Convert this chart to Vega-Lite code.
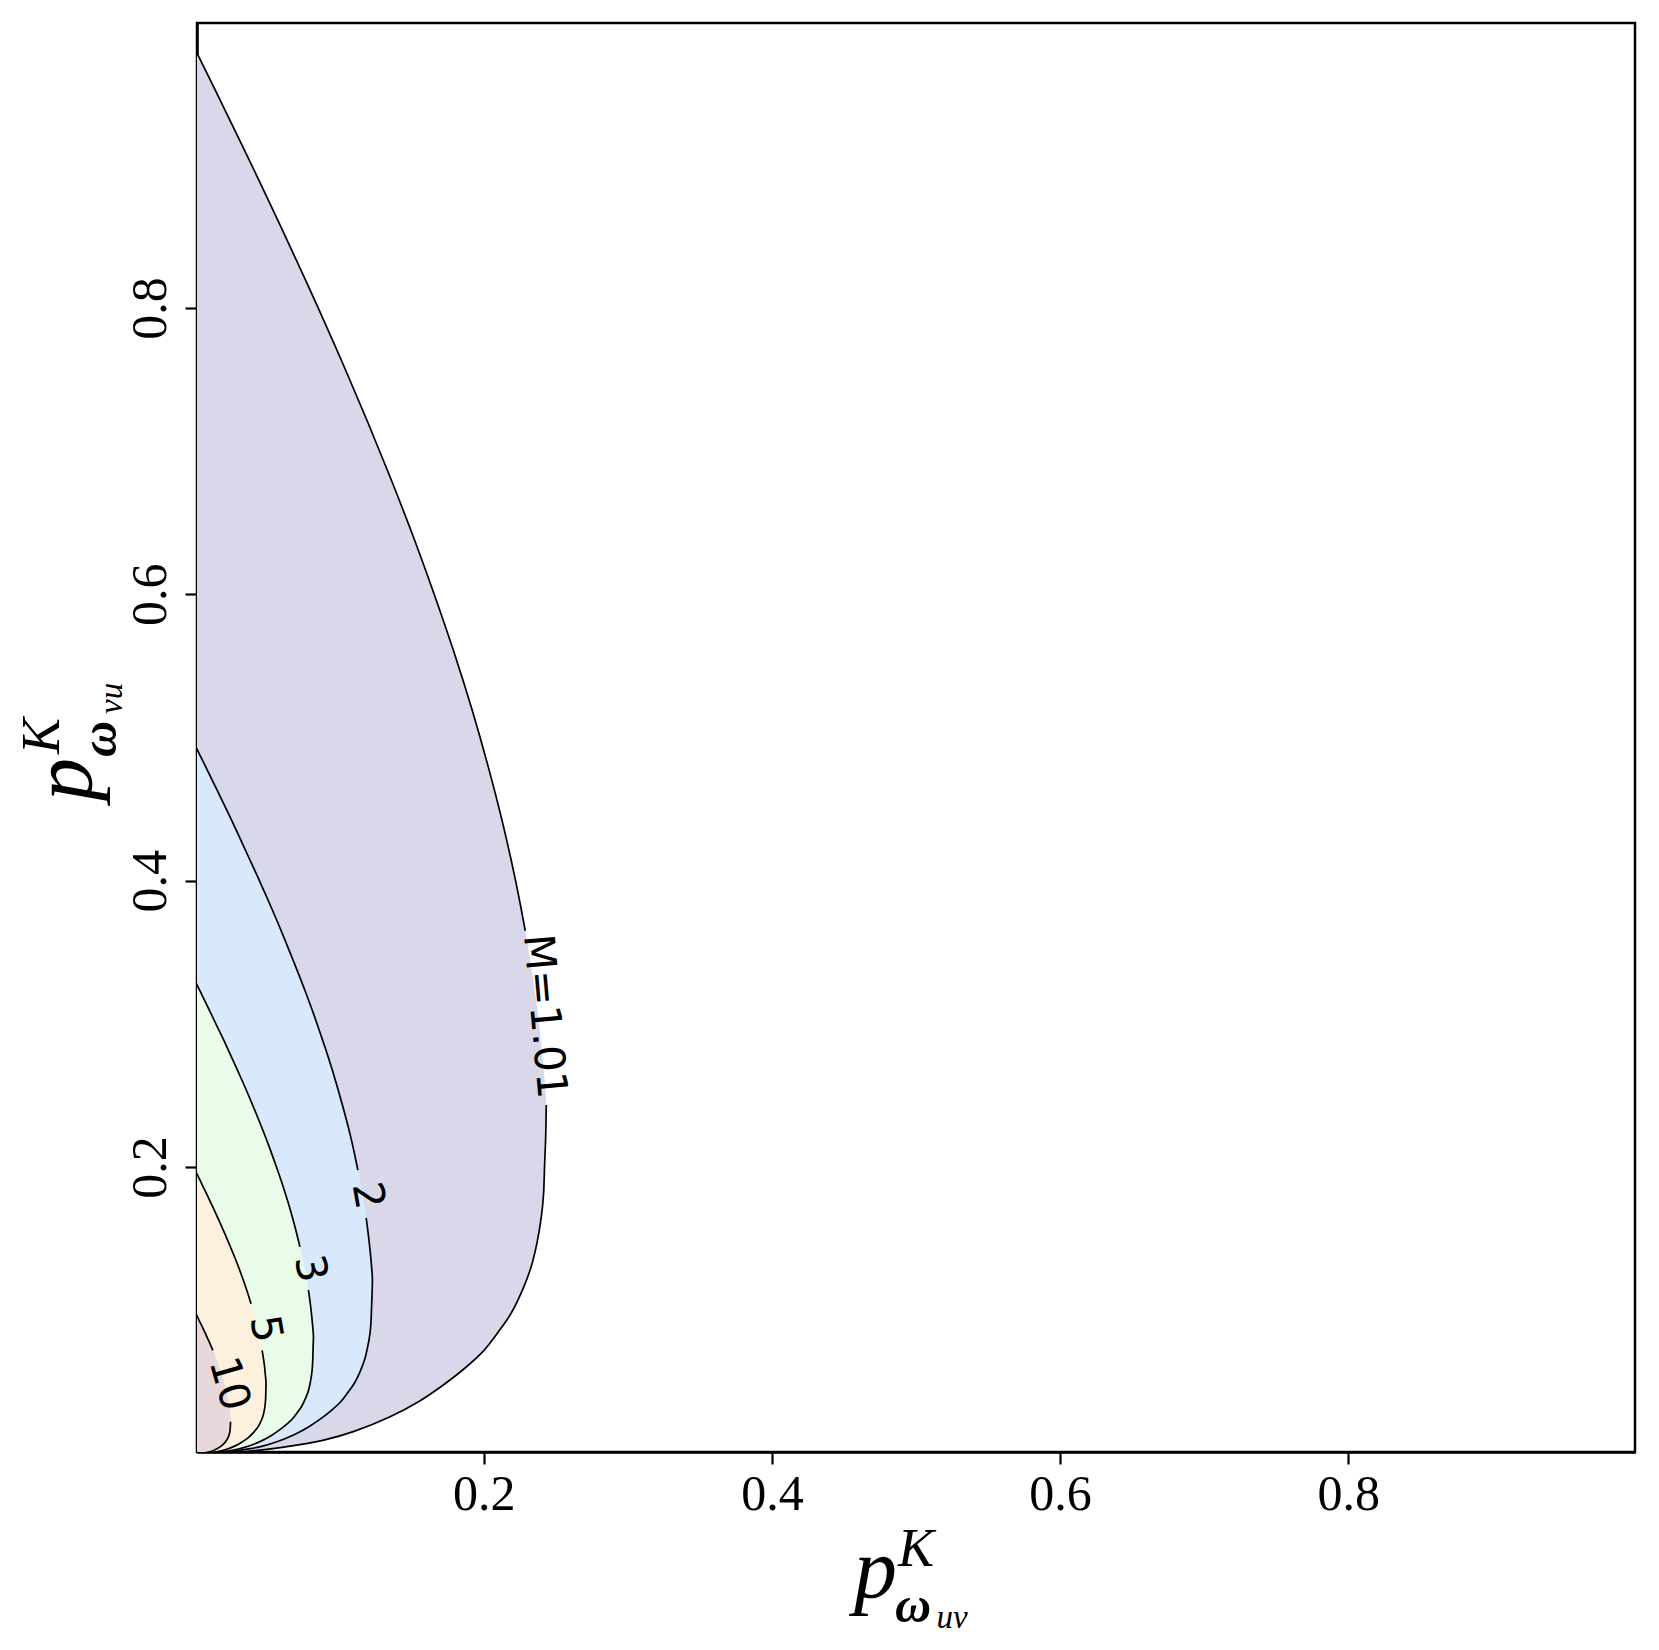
{
  "$schema": "https://vega.github.io/schema/vega-lite/v6.json",
  "width": 1438,
  "height": 1429,
  "autosize": {"type": "none"},
  "padding": {"left": 197, "top": 23, "right": 24, "bottom": 198},
  "background": "white",
  "config": {"view": {"stroke": "black", "strokeWidth": 2.5}},
  "datasets": {
    "contours": [
      {"level": "1.01", "seg": "a", "x": 0, "y": 0.98},
      {"level": "1.01", "seg": "a", "x": 0.0147, "y": 0.95},
      {"level": "1.01", "seg": "a", "x": 0.0292, "y": 0.92},
      {"level": "1.01", "seg": "a", "x": 0.0436, "y": 0.89},
      {"level": "1.01", "seg": "a", "x": 0.0577, "y": 0.86},
      {"level": "1.01", "seg": "a", "x": 0.0715, "y": 0.83},
      {"level": "1.01", "seg": "a", "x": 0.0851, "y": 0.80},
      {"level": "1.01", "seg": "a", "x": 0.1027, "y": 0.76},
      {"level": "1.01", "seg": "a", "x": 0.1196, "y": 0.72},
      {"level": "1.01", "seg": "a", "x": 0.1358, "y": 0.68},
      {"level": "1.01", "seg": "a", "x": 0.1512, "y": 0.64},
      {"level": "1.01", "seg": "a", "x": 0.1656, "y": 0.60},
      {"level": "1.01", "seg": "a", "x": 0.1792, "y": 0.56},
      {"level": "1.01", "seg": "a", "x": 0.1917, "y": 0.52},
      {"level": "1.01", "seg": "a", "x": 0.2030, "y": 0.48},
      {"level": "1.01", "seg": "a", "x": 0.2132, "y": 0.44},
      {"level": "1.01", "seg": "a", "x": 0.2221, "y": 0.40},
      {"level": "1.01", "seg": "a", "x": 0.2279, "y": 0.37},
      {"level": "1.01", "seg": "a", "x": 0.2288, "y": 0.365},
      {"level": "1.01", "seg": "gap", "x": 0.2330, "y": 0.34},
      {"level": "1.01", "seg": "gap", "x": 0.2372, "y": 0.31},
      {"level": "1.01", "seg": "gap", "x": 0.2405, "y": 0.28},
      {"level": "1.01", "seg": "gap", "x": 0.2423, "y": 0.26},
      {"level": "1.01", "seg": "b", "x": 0.2434, "y": 0.2434},
      {"level": "1.01", "seg": "b", "x": 0.2430, "y": 0.2214},
      {"level": "1.01", "seg": "b", "x": 0.2422, "y": 0.2002},
      {"level": "1.01", "seg": "b", "x": 0.2415, "y": 0.1808},
      {"level": "1.01", "seg": "b", "x": 0.2400, "y": 0.1655},
      {"level": "1.01", "seg": "b", "x": 0.2370, "y": 0.1472},
      {"level": "1.01", "seg": "b", "x": 0.2329, "y": 0.1303},
      {"level": "1.01", "seg": "b", "x": 0.2270, "y": 0.1144},
      {"level": "1.01", "seg": "b", "x": 0.2189, "y": 0.0977},
      {"level": "1.01", "seg": "b", "x": 0.2100, "y": 0.0847},
      {"level": "1.01", "seg": "b", "x": 0.2002, "y": 0.072},
      {"level": "1.01", "seg": "b", "x": 0.1860, "y": 0.0588},
      {"level": "1.01", "seg": "b", "x": 0.1700, "y": 0.0464},
      {"level": "1.01", "seg": "b", "x": 0.1550, "y": 0.0363},
      {"level": "1.01", "seg": "b", "x": 0.1350, "y": 0.0256},
      {"level": "1.01", "seg": "b", "x": 0.1100, "y": 0.0154},
      {"level": "1.01", "seg": "b", "x": 0.0883, "y": 0.0091},
      {"level": "1.01", "seg": "b", "x": 0.0600, "y": 0.0042},
      {"level": "1.01", "seg": "b", "x": 0.0417, "y": 0.002},
      {"level": "1.01", "seg": "b", "x": 0.0200, "y": 0.0005},
      {"level": "1.01", "seg": "b", "x": 0, "y": 0},

      {"level": "2", "seg": "a", "x": 0, "y": 0.4939},
      {"level": "2", "seg": "a", "x": 0.0074, "y": 0.4788},
      {"level": "2", "seg": "a", "x": 0.0147, "y": 0.4637},
      {"level": "2", "seg": "a", "x": 0.0220, "y": 0.4486},
      {"level": "2", "seg": "a", "x": 0.0291, "y": 0.4334},
      {"level": "2", "seg": "a", "x": 0.0360, "y": 0.4183},
      {"level": "2", "seg": "a", "x": 0.0429, "y": 0.4032},
      {"level": "2", "seg": "a", "x": 0.0518, "y": 0.383},
      {"level": "2", "seg": "a", "x": 0.0603, "y": 0.3629},
      {"level": "2", "seg": "a", "x": 0.0684, "y": 0.3427},
      {"level": "2", "seg": "a", "x": 0.0762, "y": 0.3226},
      {"level": "2", "seg": "a", "x": 0.0835, "y": 0.3024},
      {"level": "2", "seg": "a", "x": 0.0903, "y": 0.2822},
      {"level": "2", "seg": "a", "x": 0.0966, "y": 0.2621},
      {"level": "2", "seg": "a", "x": 0.1023, "y": 0.2419},
      {"level": "2", "seg": "a", "x": 0.1075, "y": 0.2218},
      {"level": "2", "seg": "a", "x": 0.1119, "y": 0.2016},
      {"level": "2", "seg": "a", "x": 0.1126, "y": 0.1979},
      {"level": "2", "seg": "gap", "x": 0.1149, "y": 0.1865},
      {"level": "2", "seg": "gap", "x": 0.1174, "y": 0.1714},
      {"level": "2", "seg": "b", "x": 0.1184, "y": 0.1645},
      {"level": "2", "seg": "b", "x": 0.1195, "y": 0.1562},
      {"level": "2", "seg": "b", "x": 0.1212, "y": 0.1411},
      {"level": "2", "seg": "b", "x": 0.1221, "y": 0.131},
      {"level": "2", "seg": "b", "x": 0.1227, "y": 0.1227},
      {"level": "2", "seg": "b", "x": 0.1225, "y": 0.1116},
      {"level": "2", "seg": "b", "x": 0.1221, "y": 0.1009},
      {"level": "2", "seg": "b", "x": 0.1217, "y": 0.0911},
      {"level": "2", "seg": "b", "x": 0.1210, "y": 0.0834},
      {"level": "2", "seg": "b", "x": 0.1194, "y": 0.0742},
      {"level": "2", "seg": "b", "x": 0.1174, "y": 0.0657},
      {"level": "2", "seg": "b", "x": 0.1144, "y": 0.0577},
      {"level": "2", "seg": "b", "x": 0.1103, "y": 0.0492},
      {"level": "2", "seg": "b", "x": 0.1058, "y": 0.0427},
      {"level": "2", "seg": "b", "x": 0.1009, "y": 0.0363},
      {"level": "2", "seg": "b", "x": 0.0937, "y": 0.0296},
      {"level": "2", "seg": "b", "x": 0.0857, "y": 0.0234},
      {"level": "2", "seg": "b", "x": 0.0781, "y": 0.0183},
      {"level": "2", "seg": "b", "x": 0.0680, "y": 0.0129},
      {"level": "2", "seg": "b", "x": 0.0554, "y": 0.0078},
      {"level": "2", "seg": "b", "x": 0.0445, "y": 0.0046},
      {"level": "2", "seg": "b", "x": 0.0302, "y": 0.0021},
      {"level": "2", "seg": "b", "x": 0.0210, "y": 0.001},
      {"level": "2", "seg": "b", "x": 0.0101, "y": 0.0003},
      {"level": "2", "seg": "b", "x": 0, "y": 0},

      {"level": "3", "seg": "a", "x": 0, "y": 0.3293},
      {"level": "3", "seg": "a", "x": 0.0049, "y": 0.3192},
      {"level": "3", "seg": "a", "x": 0.0098, "y": 0.3091},
      {"level": "3", "seg": "a", "x": 0.0146, "y": 0.299},
      {"level": "3", "seg": "a", "x": 0.0194, "y": 0.289},
      {"level": "3", "seg": "a", "x": 0.0240, "y": 0.2789},
      {"level": "3", "seg": "a", "x": 0.0286, "y": 0.2688},
      {"level": "3", "seg": "a", "x": 0.0345, "y": 0.2554},
      {"level": "3", "seg": "a", "x": 0.0402, "y": 0.2419},
      {"level": "3", "seg": "a", "x": 0.0456, "y": 0.2285},
      {"level": "3", "seg": "a", "x": 0.0508, "y": 0.215},
      {"level": "3", "seg": "a", "x": 0.0556, "y": 0.2016},
      {"level": "3", "seg": "a", "x": 0.0602, "y": 0.1882},
      {"level": "3", "seg": "a", "x": 0.0644, "y": 0.1747},
      {"level": "3", "seg": "a", "x": 0.0682, "y": 0.1613},
      {"level": "3", "seg": "a", "x": 0.0716, "y": 0.1478},
      {"level": "3", "seg": "a", "x": 0.0724, "y": 0.1443},
      {"level": "3", "seg": "gap", "x": 0.0746, "y": 0.1344},
      {"level": "3", "seg": "gap", "x": 0.0766, "y": 0.1243},
      {"level": "3", "seg": "b", "x": 0.0783, "y": 0.1142},
      {"level": "3", "seg": "b", "x": 0.0797, "y": 0.1042},
      {"level": "3", "seg": "b", "x": 0.0808, "y": 0.0941},
      {"level": "3", "seg": "b", "x": 0.0814, "y": 0.0874},
      {"level": "3", "seg": "b", "x": 0.0818, "y": 0.0818},
      {"level": "3", "seg": "b", "x": 0.0816, "y": 0.0744},
      {"level": "3", "seg": "b", "x": 0.0814, "y": 0.0673},
      {"level": "3", "seg": "b", "x": 0.0811, "y": 0.0607},
      {"level": "3", "seg": "b", "x": 0.0806, "y": 0.0556},
      {"level": "3", "seg": "b", "x": 0.0796, "y": 0.0495},
      {"level": "3", "seg": "b", "x": 0.0783, "y": 0.0438},
      {"level": "3", "seg": "b", "x": 0.0763, "y": 0.0384},
      {"level": "3", "seg": "b", "x": 0.0736, "y": 0.0328},
      {"level": "3", "seg": "b", "x": 0.0706, "y": 0.0285},
      {"level": "3", "seg": "b", "x": 0.0673, "y": 0.0242},
      {"level": "3", "seg": "b", "x": 0.0625, "y": 0.0198},
      {"level": "3", "seg": "b", "x": 0.0571, "y": 0.0156},
      {"level": "3", "seg": "b", "x": 0.0521, "y": 0.0122},
      {"level": "3", "seg": "b", "x": 0.0454, "y": 0.0086},
      {"level": "3", "seg": "b", "x": 0.0370, "y": 0.0052},
      {"level": "3", "seg": "b", "x": 0.0297, "y": 0.0031},
      {"level": "3", "seg": "b", "x": 0.0202, "y": 0.0014},
      {"level": "3", "seg": "b", "x": 0.0140, "y": 0.0007},
      {"level": "3", "seg": "b", "x": 0.0067, "y": 0.0002},
      {"level": "3", "seg": "b", "x": 0, "y": 0},

      {"level": "5", "seg": "a", "x": 0, "y": 0.197},
      {"level": "5", "seg": "a", "x": 0.0030, "y": 0.191},
      {"level": "5", "seg": "a", "x": 0.0059, "y": 0.1849},
      {"level": "5", "seg": "a", "x": 0.0088, "y": 0.1789},
      {"level": "5", "seg": "a", "x": 0.0116, "y": 0.1729},
      {"level": "5", "seg": "a", "x": 0.0144, "y": 0.1668},
      {"level": "5", "seg": "a", "x": 0.0171, "y": 0.1608},
      {"level": "5", "seg": "a", "x": 0.0206, "y": 0.1528},
      {"level": "5", "seg": "a", "x": 0.0240, "y": 0.1447},
      {"level": "5", "seg": "a", "x": 0.0273, "y": 0.1367},
      {"level": "5", "seg": "a", "x": 0.0304, "y": 0.1286},
      {"level": "5", "seg": "a", "x": 0.0333, "y": 0.1206},
      {"level": "5", "seg": "a", "x": 0.0360, "y": 0.1126},
      {"level": "5", "seg": "a", "x": 0.0385, "y": 0.1045},
      {"level": "5", "seg": "gap", "x": 0.0408, "y": 0.0965},
      {"level": "5", "seg": "gap", "x": 0.0429, "y": 0.0884},
      {"level": "5", "seg": "gap", "x": 0.0446, "y": 0.0804},
      {"level": "5", "seg": "gap", "x": 0.0458, "y": 0.0744},
      {"level": "5", "seg": "b", "x": 0.0462, "y": 0.072},
      {"level": "5", "seg": "b", "x": 0.0468, "y": 0.0683},
      {"level": "5", "seg": "b", "x": 0.0477, "y": 0.0623},
      {"level": "5", "seg": "b", "x": 0.0483, "y": 0.0563},
      {"level": "5", "seg": "b", "x": 0.0487, "y": 0.0523},
      {"level": "5", "seg": "b", "x": 0.0489, "y": 0.0489},
      {"level": "5", "seg": "b", "x": 0.0488, "y": 0.0445},
      {"level": "5", "seg": "b", "x": 0.0487, "y": 0.0402},
      {"level": "5", "seg": "b", "x": 0.0485, "y": 0.0363},
      {"level": "5", "seg": "b", "x": 0.0482, "y": 0.0333},
      {"level": "5", "seg": "b", "x": 0.0476, "y": 0.0296},
      {"level": "5", "seg": "b", "x": 0.0468, "y": 0.0262},
      {"level": "5", "seg": "b", "x": 0.0456, "y": 0.023},
      {"level": "5", "seg": "b", "x": 0.0440, "y": 0.0196},
      {"level": "5", "seg": "b", "x": 0.0422, "y": 0.017},
      {"level": "5", "seg": "b", "x": 0.0402, "y": 0.0145},
      {"level": "5", "seg": "b", "x": 0.0374, "y": 0.0118},
      {"level": "5", "seg": "b", "x": 0.0342, "y": 0.0093},
      {"level": "5", "seg": "b", "x": 0.0312, "y": 0.0073},
      {"level": "5", "seg": "b", "x": 0.0271, "y": 0.0051},
      {"level": "5", "seg": "b", "x": 0.0221, "y": 0.0031},
      {"level": "5", "seg": "b", "x": 0.0177, "y": 0.0018},
      {"level": "5", "seg": "b", "x": 0.0121, "y": 0.0008},
      {"level": "5", "seg": "b", "x": 0.0084, "y": 0.0004},
      {"level": "5", "seg": "b", "x": 0, "y": 0},

      {"level": "10", "seg": "a", "x": 0, "y": 0.098},
      {"level": "10", "seg": "a", "x": 0.0015, "y": 0.095},
      {"level": "10", "seg": "a", "x": 0.0029, "y": 0.092},
      {"level": "10", "seg": "a", "x": 0.0044, "y": 0.089},
      {"level": "10", "seg": "a", "x": 0.0058, "y": 0.086},
      {"level": "10", "seg": "a", "x": 0.0072, "y": 0.083},
      {"level": "10", "seg": "a", "x": 0.0085, "y": 0.08},
      {"level": "10", "seg": "a", "x": 0.0103, "y": 0.076},
      {"level": "10", "seg": "a", "x": 0.0120, "y": 0.072},
      {"level": "10", "seg": "gap", "x": 0.0136, "y": 0.068},
      {"level": "10", "seg": "gap", "x": 0.0151, "y": 0.064},
      {"level": "10", "seg": "gap", "x": 0.0166, "y": 0.06},
      {"level": "10", "seg": "gap", "x": 0.0179, "y": 0.056},
      {"level": "10", "seg": "gap", "x": 0.0192, "y": 0.052},
      {"level": "10", "seg": "gap", "x": 0.0203, "y": 0.048},
      {"level": "10", "seg": "gap", "x": 0.0213, "y": 0.044},
      {"level": "10", "seg": "gap", "x": 0.0222, "y": 0.04},
      {"level": "10", "seg": "gap", "x": 0.0228, "y": 0.037},
      {"level": "10", "seg": "gap", "x": 0.0233, "y": 0.034},
      {"level": "10", "seg": "gap", "x": 0.0237, "y": 0.031},
      {"level": "10", "seg": "gap", "x": 0.0241, "y": 0.028},
      {"level": "10", "seg": "gap", "x": 0.0242, "y": 0.026},
      {"level": "10", "seg": "gap", "x": 0.0243, "y": 0.0243},
      {"level": "10", "seg": "b", "x": 0.0243, "y": 0.0221},
      {"level": "10", "seg": "b", "x": 0.0242, "y": 0.02},
      {"level": "10", "seg": "b", "x": 0.0240, "y": 0.0166},
      {"level": "10", "seg": "b", "x": 0.0237, "y": 0.0147},
      {"level": "10", "seg": "b", "x": 0.0233, "y": 0.013},
      {"level": "10", "seg": "b", "x": 0.0227, "y": 0.0114},
      {"level": "10", "seg": "b", "x": 0.0219, "y": 0.0098},
      {"level": "10", "seg": "b", "x": 0.0210, "y": 0.0085},
      {"level": "10", "seg": "b", "x": 0.0200, "y": 0.0072},
      {"level": "10", "seg": "b", "x": 0.0186, "y": 0.0059},
      {"level": "10", "seg": "b", "x": 0.0170, "y": 0.0046},
      {"level": "10", "seg": "b", "x": 0.0135, "y": 0.0026},
      {"level": "10", "seg": "b", "x": 0.0110, "y": 0.0015},
      {"level": "10", "seg": "b", "x": 0.0088, "y": 0.0009},
      {"level": "10", "seg": "b", "x": 0.0060, "y": 0.0004},
      {"level": "10", "seg": "b", "x": 0.0020, "y": 0.0001},
      {"level": "10", "seg": "b", "x": 0, "y": 0}
    ],
    "labels": [
      {"label": "M=1.01", "x": 0.242, "y": 0.3052},
      {"label": "2", "x": 0.1194, "y": 0.18},
      {"label": "3", "x": 0.0794, "y": 0.129},
      {"label": "5", "x": 0.0485, "y": 0.087},
      {"label": "10", "x": 0.0232, "y": 0.0486}
    ]
  },
  "layer": [
    {
      "encoding": {
        "x": {
          "field": "x", "type": "quantitative",
          "scale": {"domain": [0.001, 0.999], "nice": false, "zero": false},
          "axis": {
            "values": [0.2, 0.4, 0.6, 0.8], "format": ".1f", "grid": false,
            "domainColor": "black", "domainWidth": 2.5,
            "tickColor": "black", "tickWidth": 2.2, "tickSize": 12,
            "labelFont": "Liberation Serif", "labelFontSize": 50, "labelColor": "black",
            "labelPadding": 5, "labelFlush": false,
            "title": "p", "titleFont": "Liberation Serif", "titleFontSize": 86,
            "titleFontStyle": "italic", "titleFontWeight": "normal", "titleColor": "black",
            "titleX": 678, "titleY": 144, "titleAlign": "center", "titleBaseline": "alphabetic", "titleAngle": 0
          }
        },
        "y": {
          "field": "y", "type": "quantitative",
          "scale": {"domain": [0.001, 0.999], "nice": false, "zero": false},
          "axis": {
            "values": [0.2, 0.4, 0.6, 0.8], "format": ".1f", "grid": false,
            "domainColor": "black", "domainWidth": 2.5,
            "tickColor": "black", "tickWidth": 2.2, "tickSize": 12,
            "labelFont": "Liberation Serif", "labelFontSize": 50, "labelColor": "black",
            "labelAngle": 270, "labelAlign": "center", "labelBaseline": "alphabetic",
            "labelPadding": 20, "labelFlush": false,
            "title": "p", "titleFont": "Liberation Serif", "titleFontSize": 86,
            "titleFontStyle": "italic", "titleFontWeight": "normal", "titleColor": "black",
            "titleX": -107, "titleY": 756, "titleAlign": "center", "titleBaseline": "alphabetic", "titleAngle": 270
          }
        }
      },
      "layer": [
        {
          "data": {"name": "contours"},
          "transform": [{"filter": "datum.level == '1.01'"}],
          "mark": {"type": "area", "orient": "horizontal", "interpolate": "catmull-rom", "color": "#d8d8ea", "opacity": 1, "clip": true},
          "encoding": {"x2": {"datum": 0}}
        },
        {
          "data": {"name": "contours"},
          "transform": [{"filter": "datum.level == '2'"}],
          "mark": {"type": "area", "orient": "horizontal", "interpolate": "catmull-rom", "color": "#d8e9fc", "opacity": 1, "clip": true},
          "encoding": {"x2": {"datum": 0}}
        },
        {
          "data": {"name": "contours"},
          "transform": [{"filter": "datum.level == '3'"}],
          "mark": {"type": "area", "orient": "horizontal", "interpolate": "catmull-rom", "color": "#e9fce9", "opacity": 1, "clip": true},
          "encoding": {"x2": {"datum": 0}}
        },
        {
          "data": {"name": "contours"},
          "transform": [{"filter": "datum.level == '5'"}],
          "mark": {"type": "area", "orient": "horizontal", "interpolate": "catmull-rom", "color": "#fdf0dc", "opacity": 1, "clip": true},
          "encoding": {"x2": {"datum": 0}}
        },
        {
          "data": {"name": "contours"},
          "transform": [{"filter": "datum.level == '10'"}],
          "mark": {"type": "area", "orient": "horizontal", "interpolate": "catmull-rom", "color": "#e8d8dc", "opacity": 1, "clip": true},
          "encoding": {"x2": {"datum": 0}}
        },
        {
          "data": {"name": "contours"},
          "transform": [{"filter": "datum.seg != 'gap'"}],
          "mark": {"type": "line", "interpolate": "catmull-rom", "color": "black", "strokeWidth": 1.7, "clip": true},
          "encoding": {
            "detail": [{"field": "level"}, {"field": "seg"}],
            "order": {"field": "y", "type": "quantitative"}
          }
        },
        {
          "data": {"name": "labels"},
          "transform": [{"filter": "datum.label == 'M=1.01'"}],
          "mark": {"type": "text", "font": "DejaVu Sans", "fontSize": 42, "color": "black", "align": "center", "baseline": "middle", "angle": 85},
          "encoding": {"text": {"field": "label"}}
        },
        {
          "data": {"name": "labels"},
          "transform": [{"filter": "datum.label == '2'"}],
          "mark": {"type": "text", "font": "DejaVu Sans", "fontSize": 42, "color": "black", "align": "center", "baseline": "middle", "angle": 80},
          "encoding": {"text": {"field": "label"}}
        },
        {
          "data": {"name": "labels"},
          "transform": [{"filter": "datum.label == '3'"}],
          "mark": {"type": "text", "font": "DejaVu Sans", "fontSize": 42, "color": "black", "align": "center", "baseline": "middle", "angle": 79},
          "encoding": {"text": {"field": "label"}}
        },
        {
          "data": {"name": "labels"},
          "transform": [{"filter": "datum.label == '5'"}],
          "mark": {"type": "text", "font": "DejaVu Sans", "fontSize": 42, "color": "black", "align": "center", "baseline": "middle", "angle": 80},
          "encoding": {"text": {"field": "label"}}
        },
        {
          "data": {"name": "labels"},
          "transform": [{"filter": "datum.label == '10'"}],
          "mark": {"type": "text", "font": "DejaVu Sans", "fontSize": 42, "color": "black", "align": "center", "baseline": "middle", "angle": 74},
          "encoding": {"text": {"field": "label"}}
        }
      ]
    },
    {
      "data": {"values": [{"t": "K"}]},
      "mark": {"type": "text", "font": "Liberation Serif", "fontStyle": "italic", "fontSize": 54, "color": "black", "align": "left", "baseline": "alphabetic", "clip": false},
      "encoding": {"x": {"datum": 0.4875}, "y": {"datum": -0.0787}, "text": {"field": "t"}}
    },
    {
      "data": {"values": [{"t": "ω"}]},
      "mark": {"type": "text", "font": "Liberation Serif", "fontStyle": "italic", "fontWeight": "bold", "fontSize": 50, "color": "black", "align": "left", "baseline": "alphabetic", "clip": false},
      "encoding": {"x": {"datum": 0.4855}, "y": {"datum": -0.1179}, "text": {"field": "t"}}
    },
    {
      "data": {"values": [{"t": "uv"}]},
      "mark": {"type": "text", "font": "Liberation Serif", "fontStyle": "italic", "fontSize": 33, "color": "black", "align": "left", "baseline": "alphabetic", "clip": false},
      "encoding": {"x": {"datum": 0.5142}, "y": {"datum": -0.1221}, "text": {"field": "t"}}
    },
    {
      "data": {"values": [{"t": "K"}]},
      "mark": {"type": "text", "font": "Liberation Serif", "fontStyle": "italic", "fontSize": 54, "color": "black", "align": "left", "baseline": "alphabetic", "angle": 270, "clip": false},
      "encoding": {"x": {"datum": -0.0949}, "y": {"datum": 0.4884}, "text": {"field": "t"}}
    },
    {
      "data": {"values": [{"t": "ω"}]},
      "mark": {"type": "text", "font": "Liberation Serif", "fontStyle": "italic", "fontWeight": "bold", "fontSize": 50, "color": "black", "align": "left", "baseline": "alphabetic", "angle": 270, "clip": false},
      "encoding": {"x": {"datum": -0.0553}, "y": {"datum": 0.4863}, "text": {"field": "t"}}
    },
    {
      "data": {"values": [{"t": "vu"}]},
      "mark": {"type": "text", "font": "Liberation Serif", "fontStyle": "italic", "fontSize": 33, "color": "black", "align": "left", "baseline": "alphabetic", "angle": 270, "clip": false},
      "encoding": {"x": {"datum": -0.0511}, "y": {"datum": 0.5164}, "text": {"field": "t"}}
    }
  ]
}
